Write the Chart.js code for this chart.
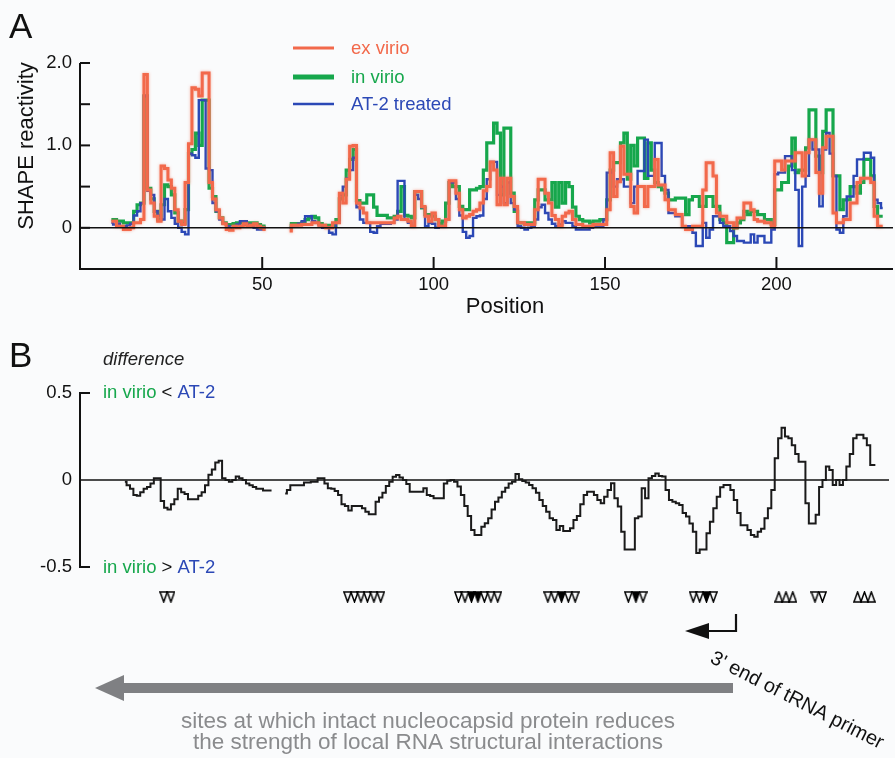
<!DOCTYPE html>
<html><head><meta charset="utf-8">
<script src="https://cdn.jsdelivr.net/npm/chart.js@4.4.1/dist/chart.umd.min.js"></script>
<style>
html,body{margin:0;padding:0;background:#fafbfc;}
#wrap{position:relative;width:895px;height:758px;overflow:hidden;background:#fafbfc;}
canvas{position:absolute;left:0;}
#cA{top:0;} #cB{top:330px;}
</style></head><body>
<div id="wrap"><canvas id="cA" width="895" height="330"></canvas><canvas id="cB" width="895" height="428"></canvas></div>
<script>
// ---------------- DATA ----------------
const positionStartA = 6;   // first nucleotide position in panel A
const exVirio = [
 0.08,0.08,0.02,0.02,-0.02,-0.02,0.0,0.06,0.06,0.1,1.86,0.46,0.3,0.14,0.08,0.75,0.72,0.58,0.48,0.22,0.08,0.04,0.55,1.02,1.7,1.68,1.6,1.88,1.88,0.55,0.35,0.22,0.12,0.05,-0.02,-0.03,0.02,0.0,0.02,0.05,0.02,0.03,0.05,0.02,0.0,-0.02,
 null,null,null,null,null,null,
 -0.04,0.03,0.03,0.03,0.04,0.04,0.04,0.06,0.06,0.03,0.03,0.0,0.0,0.06,0.06,0.42,0.3,0.59,0.99,1.0,0.3,0.24,0.18,0.06,0.06,0.06,0.06,0.06,0.06,0.06,0.06,0.12,0.14,0.1,0.1,0.08,0.02,0.44,0.44,0.26,0.14,0.08,0.18,0.1,0.02,0.02,0.1,0.57,0.57,0.42,0.22,0.12,0.14,0.16,0.2,0.22,0.3,0.45,
 0.5,0.8,0.7,0.28,0.6,0.28,0.6,0.38,0.26,0.06,0.06,0.04,0.04,0.04,0.22,0.59,0.59,0.42,0.3,0.15,0.1,0.02,0.14,0.18,0.2,0.1,0.04,0.04,0.02,0.02,0.02,0.04,0.04,0.04,0.04,0.22,0.91,0.38,0.56,0.99,0.65,0.65,0.26,0.18,
 0.5,0.5,0.26,0.5,0.5,0.83,0.52,0.52,0.34,0.22,0.22,0.16,0.16,0.02,-0.02,-0.02,0.02,0.02,0.02,0.46,0.79,0.79,0.63,0.18,0.14,0.14,0.06,0.06,0.0,0.12,0.12,0.3,0.3,0.22,0.1,0.08,0.08,0.06,0.06,0.02,
 0.81,0.81,0.7,0.81,0.81,0.81,0.91,0.91,0.63,0.91,1.07,1.07,0.67,0.42,0.97,1.11,1.11,0.18,0.06,0.06,0.1,0.1,0.3,0.3,0.55,0.6,0.6,0.6,0.55,0.14,0.02,0.02
];
const inVirio = [
 0.1,0.1,0.08,0.08,0.06,0.06,0.06,0.2,0.28,0.3,1.6,0.48,0.35,0.2,0.1,0.28,0.52,0.5,0.4,0.18,0.08,0.05,0.22,0.9,0.95,1.15,1.0,1.55,1.55,0.48,0.38,0.2,0.12,0.06,0.04,0.04,0.05,0.06,0.06,0.04,0.06,0.06,0.06,0.04,0.02,0.02,
 null,null,null,null,null,null,
 0.03,0.05,0.05,0.05,0.06,0.1,0.12,0.14,0.12,0.05,0.03,0.03,0.03,0.03,0.1,0.35,0.4,0.7,0.83,0.95,0.33,0.3,0.3,0.4,0.4,0.25,0.15,0.15,0.15,0.12,0.12,0.14,0.2,0.5,0.15,0.14,0.12,0.44,0.44,0.24,0.16,0.16,0.14,0.1,0.05,0.08,0.3,0.55,0.5,0.5,0.26,0.22,0.22,0.46,0.46,0.48,0.5,0.7,
 1.03,1.03,1.27,1.15,0.4,1.21,1.21,0.42,0.2,0.06,0.06,0.06,0.06,0.06,0.34,0.46,0.46,0.34,0.34,0.55,0.25,0.55,0.3,0.55,0.5,0.25,0.14,0.1,0.08,0.08,0.06,0.08,0.08,0.1,0.1,0.34,0.7,0.79,0.79,1.03,1.15,0.59,1.0,0.75,1.09,1.09,0.6,1.03,0.7,0.55,
 0.5,0.46,0.42,0.34,0.34,0.36,0.36,0.36,0.16,0.34,0.38,0.38,0.26,0.26,0.38,0.38,0.26,0.26,0.1,0.06,-0.18,-0.18,0.0,0.06,0.1,0.2,0.16,0.2,0.2,0.16,0.16,0.1,0.1,0.04,
 0.46,0.46,0.55,0.55,0.75,1.09,0.67,0.7,0.7,0.97,1.43,1.43,0.87,0.67,1.17,1.43,1.43,0.63,0.63,0.22,0.34,0.34,0.5,0.5,0.42,0.55,0.83,0.83,0.63,0.26,0.14,0.14
];
const at2Treated = [
 0.06,0.04,0.05,0.02,0.02,0.03,0.05,0.15,0.2,0.3,1.6,0.45,0.4,0.2,0.15,0.1,0.35,0.2,0.12,0.05,0.0,-0.05,-0.08,0.9,0.88,0.85,1.55,1.55,0.72,0.7,0.3,0.2,0.1,0.05,0.02,0.0,0.02,0.04,0.08,0.08,0.04,0.02,0.0,-0.02,-0.02,0.0,
 null,null,null,null,null,null,
 0.0,0.03,0.03,0.05,0.08,0.14,0.14,0.08,0.06,0.03,0.0,0.0,-0.06,-0.08,0.06,0.4,0.5,0.6,0.7,0.85,0.25,0.1,0.06,0.06,-0.05,-0.06,0.02,0.05,0.05,0.05,0.06,0.1,0.57,0.57,0.1,0.06,0.02,0.4,0.35,0.25,0.02,0.06,0.05,0.0,0.02,0.02,0.1,0.55,0.55,0.35,0.15,-0.05,-0.12,-0.1,0.12,0.14,0.15,0.35,
 0.59,0.8,0.8,0.4,0.5,0.3,0.55,0.3,0.22,0.02,0.0,-0.02,0.0,0.02,0.1,0.25,0.28,0.18,0.1,0.05,0.02,0.04,0.08,0.06,0.06,0.02,-0.02,-0.02,-0.02,-0.02,0.0,0.02,0.02,0.02,0.1,0.67,0.67,0.5,0.59,0.59,0.5,0.5,0.3,0.5,0.69,0.69,1.07,0.63,0.63,1.03,
 1.03,0.63,0.46,0.18,0.18,0.14,0.14,0.02,0.02,0.02,-0.06,-0.22,-0.22,0.06,-0.12,-0.02,0.14,0.14,0.06,0.02,0.02,-0.04,-0.1,-0.16,-0.16,-0.18,-0.18,-0.08,-0.18,-0.1,-0.1,-0.18,-0.18,-0.02,
 0.65,0.67,0.67,0.87,0.87,0.7,0.46,-0.22,0.5,0.63,1.07,0.95,0.95,0.26,0.95,1.15,0.9,0.63,-0.02,-0.06,0.14,0.38,0.38,0.63,0.83,0.83,0.91,0.91,0.85,0.34,0.3,0.24
];
const positionStartB = 10;  // first position of the difference trace
const difference = [
 -0.01,-0.03,-0.05,-0.086,-0.09,-0.07,-0.05,-0.04,-0.02,0.01,0.01,-0.12,-0.16,-0.17,-0.14,-0.11,-0.05,-0.07,-0.08,-0.11,-0.11,-0.11,-0.09,-0.07,-0.03,0.03,0.06,0.10,0.11,0.01,0.0,-0.01,0.0,0.02,0.01,0.0,-0.02,-0.03,-0.04,-0.05,-0.05,-0.06,-0.06,-0.06,
 null,null,null,
 -0.077,-0.057,-0.03,-0.03,-0.03,-0.03,-0.015,-0.015,-0.01,-0.01,0.01,0.01,-0.02,-0.048,-0.05,-0.063,-0.086,-0.14,-0.15,-0.176,-0.15,-0.15,-0.15,-0.163,-0.182,-0.197,-0.197,-0.125,-0.10,-0.073,-0.034,-0.01,0.019,0.029,0.015,0.0,-0.023,-0.067,-0.067,-0.067,-0.067,-0.048,-0.086,-0.092,-0.105,-0.105,-0.105,-0.02,-0.004,0.0,-0.01,-0.038,-0.086,-0.15,-0.207,-0.287,-0.316,-0.316,-0.268,-0.249,-0.22,-0.169,-0.125,-0.10,-0.067,-0.044,-0.02,-0.01,0.034,0.004,-0.006,-0.015,-0.029,-0.048,-0.073,-0.115,-0.15,-0.182,-0.22,-0.23,-0.287,-0.264,-0.293,-0.293,-0.278,-0.23,-0.207,-0.14,-0.086,-0.067,-0.067,-0.086,
 -0.115,-0.134,-0.096,-0.057,-0.019,-0.105,-0.153,-0.297,-0.40,-0.40,-0.40,-0.22,-0.21,-0.048,-0.105,0.01,0.023,0.038,0.023,0.02,-0.057,-0.115,-0.125,-0.134,-0.144,-0.19,-0.21,-0.25,-0.297,-0.42,-0.40,-0.40,-0.306,-0.24,-0.163,-0.096,-0.042,-0.029,-0.029,-0.057,-0.115,-0.19,-0.26,-0.26,-0.287,-0.316,-0.326,-0.297,-0.28,-0.22,-0.163,-0.057,
 0.125,0.24,0.30,0.25,0.24,0.20,0.15,0.105,0.105,-0.134,-0.25,-0.25,-0.20,-0.04,0.0,0.077,0.057,-0.029,0.0,-0.029,0.0,0.077,0.15,0.24,0.26,0.26,0.24,0.20,0.086,0.086
];
// sites marked by triangles under panel B (positions)
const sitesDownOpen   = [21.4,23.5, 75.3,77.3,79.2,81.1,83.0,85.0, 107.8,109.7,115.4,117.3,119.3, 134.0,136.0,140.0,142.0, 157.6,161.9, 176.6,178.5,182.5, 212.3,214.5];
const sitesDownFilled = [111.6,113.5, 138.0, 159.8, 180.5];
const sitesUpOpen     = [201.7,203.8,205.8, 224.8,226.8,228.8];
const xTickValues = [50,100,150,200];
const xTickLabels = ['50','100','150','200'];
const yTickValuesA = [0,0.5,1,1.5,2];
const yTickLabelsA = ['0','','1.0','','2.0'];
const yTickValuesB = [-0.5,0,0.5];
const yTickLabelsB = ['-0.5','0','0.5'];
const seriesLabels = ['ex virio','in virio','AT-2 treated'];

// ---------------- STYLE ----------------
const FONT = '"Liberation Sans", Arial, Helvetica, sans-serif';
const ORANGE = '#f2694b', GREEN = '#16a74c', BLUE = '#2b48b6';
const X_MIN = -3.15, X_MAX = 234;
const TRI_ROW = -0.672;

function pts(start, arr){ return arr.map((v,i)=>({x:start+i, y:v})); }

function triImage(dir, filled){
  const c = document.createElement('canvas'); c.width = 9; c.height = 12;
  const g = c.getContext('2d');
  g.beginPath();
  if (dir === 'down'){ g.moveTo(0.9,1); g.lineTo(8.1,1); g.lineTo(4.5,11); }
  else { g.moveTo(0.9,11); g.lineTo(8.1,11); g.lineTo(4.5,1); }
  g.closePath();
  g.fillStyle = filled ? '#000' : '#fafbfc'; g.fill();
  g.lineWidth = 1.5; g.lineJoin = 'miter'; g.strokeStyle = '#000'; g.stroke();
  return c;
}

function line(ctx,x1,y1,x2,y2){ ctx.beginPath(); ctx.moveTo(x1,y1); ctx.lineTo(x2,y2); ctx.stroke(); }

const commonX = {
  type:'linear', min:X_MIN, max:X_MAX,
  grid:{display:false, drawTicks:false}, border:{display:false},
  afterBuildTicks: s => { s.ticks = xTickValues.map(v=>({value:v})); },
  ticks:{font:{family:FONT,size:18.5}, color:'#111', padding:5, maxRotation:0, autoSkip:false,
         callback:(v,i)=>xTickLabels[i]}
};

// ---------------- PANEL A ----------------
const panelAPlugin = {
  id:'panelA',
  beforeDatasetDraw(chart, args){
    if (args.index === 0){ chart.ctx.save(); chart.ctx.shadowColor='rgba(242,105,75,0.55)'; chart.ctx.shadowBlur=3; }
  },
  afterDatasetDraw(chart, args){ if (args.index === 0) chart.ctx.restore(); },
  afterDatasetsDraw(chart){
    const {ctx, chartArea:ca, scales:{x,y}} = chart;
    ctx.save();
    ctx.strokeStyle = '#111';
    ctx.lineWidth = 1.6;
    line(ctx, ca.left, y.getPixelForValue(0), ca.right, y.getPixelForValue(0));
    ctx.lineWidth = 2;
    ctx.beginPath(); ctx.moveTo(ca.left, y.getPixelForValue(2)); ctx.lineTo(ca.left, ca.bottom); ctx.lineTo(ca.right, ca.bottom); ctx.stroke();
    yTickValuesA.forEach(v => line(ctx, ca.left, y.getPixelForValue(v), ca.left+10, y.getPixelForValue(v)));
    xTickValues.forEach(v => line(ctx, x.getPixelForValue(v), ca.bottom, x.getPixelForValue(v), ca.bottom-12));
    // texts
    ctx.fillStyle = '#111';
    ctx.font = '35px ' + FONT; ctx.textBaseline='alphabetic'; ctx.textAlign='left';
    ctx.fillText('A', 9, 38);
    ctx.font = '22px ' + FONT; ctx.textAlign='center'; ctx.textBaseline='middle';
    ctx.fillText('Position', 505, 307);
    ctx.save(); ctx.translate(33, 146); ctx.rotate(-Math.PI/2); ctx.textBaseline='alphabetic';
    ctx.fillText('SHAPE reactivity', 0, 0); ctx.restore();
    // legend
    const leg = [[ORANGE,3,48],[GREEN,5,77],[BLUE,2.6,104]];
    ctx.textAlign='left'; ctx.textBaseline='middle'; ctx.font = '18.5px ' + FONT;
    leg.forEach((l,i)=>{
      ctx.strokeStyle=l[0]; ctx.lineWidth=l[1]; line(ctx, 293, l[2], 334, l[2]);
      ctx.fillStyle=l[0]; ctx.fillText(seriesLabels[i], 351, l[2]+1);
    });
    ctx.restore();
  }
};

new Chart(document.getElementById('cA'), {
  type:'line',
  data:{ datasets:[
    {label:seriesLabels[0], data:pts(positionStartA, exVirio), borderColor:ORANGE, borderWidth:3, stepped:'middle', pointRadius:0, order:0, spanGaps:false},
    {label:seriesLabels[2], data:pts(positionStartA, at2Treated), borderColor:BLUE, borderWidth:2.4, stepped:'middle', pointRadius:0, order:1, spanGaps:false},
    {label:seriesLabels[1], data:pts(positionStartA, inVirio), borderColor:GREEN, borderWidth:3.2, stepped:'middle', pointRadius:0, order:2, spanGaps:false}
  ]},
  options:{
    responsive:false, animation:false, devicePixelRatio:1,
    layout:{padding:{left:20, right:2, top:63, bottom:21}},
    plugins:{legend:{display:false}, tooltip:{enabled:false}},
    scales:{
      x:Object.assign({}, commonX, {afterFit: s => { s.height = 40; }}),
      y:{min:-0.5, max:2, grid:{display:false, drawTicks:false}, border:{display:false},
         afterBuildTicks: s => { s.ticks = yTickValuesA.map(v=>({value:v})); },
         afterFit: s => { s.width = 60; },
         ticks:{font:{family:FONT,size:18.5}, color:'#111', padding:8, callback:(v,i)=>yTickLabelsA[i]}}
    }
  },
  plugins:[panelAPlugin]
});

// ---------------- PANEL B ----------------
const OFF = 330;
const Y_MIN_B = -0.72;   // room below the axis for the site markers
const panelBPlugin = {
  id:'panelB',
  beforeDatasetsDraw(chart){
    const {ctx, chartArea:ca, scales:{y}} = chart;
    ctx.save(); ctx.strokeStyle='#111'; ctx.lineWidth=1.6;
    line(ctx, ca.left, y.getPixelForValue(0), ca.right, y.getPixelForValue(0));
    ctx.lineWidth=2;
    ctx.beginPath();
    ctx.moveTo(ca.left+10, y.getPixelForValue(0.5)); ctx.lineTo(ca.left, y.getPixelForValue(0.5));
    ctx.lineTo(ca.left, y.getPixelForValue(-0.5)); ctx.lineTo(ca.left+10, y.getPixelForValue(-0.5));
    ctx.stroke(); ctx.restore();
  },
  afterDatasetsDraw(chart){
    const {ctx} = chart;
    ctx.save();
    ctx.fillStyle='#111'; ctx.textAlign='left'; ctx.textBaseline='alphabetic';
    ctx.font='35px ' + FONT; ctx.fillText('B', 9, 367-OFF);
    ctx.font='italic 18.5px ' + FONT; ctx.textBaseline='middle'; ctx.fillStyle='#222';
    ctx.fillText('difference', 103, 360-OFF);
    function cmp(yc, sym){
      ctx.font='18.5px ' + FONT; let xx = 103;
      ctx.fillStyle=GREEN; ctx.fillText('in virio', xx, yc); xx += ctx.measureText('in virio ').width;
      ctx.fillStyle='#111'; ctx.fillText(sym, xx, yc); xx += ctx.measureText(sym+' ').width;
      ctx.fillStyle=BLUE; ctx.fillText('AT-2', xx, yc);
    }
    cmp(393-OFF, '<'); cmp(568-OFF, '>');
    // primer arrow
    ctx.strokeStyle='#111'; ctx.lineWidth=2.2;
    ctx.beginPath(); ctx.moveTo(736, 614-OFF); ctx.lineTo(736, 631-OFF); ctx.lineTo(706, 631-OFF); ctx.stroke();
    ctx.fillStyle='#111'; ctx.beginPath(); ctx.moveTo(685, 631-OFF); ctx.lineTo(709, 623-OFF); ctx.lineTo(709, 639-OFF); ctx.closePath(); ctx.fill();
    ctx.save(); ctx.translate(709, 662-OFF); ctx.rotate(27*Math.PI/180);
    ctx.font='20px ' + FONT; ctx.textAlign='left'; ctx.textBaseline='alphabetic'; ctx.fillStyle='#111';
    ctx.fillText("3' end of tRNA primer", 0, 0); ctx.restore();
    // gray arrow
    ctx.fillStyle='#7f8083';
    ctx.fillRect(120, 683-OFF, 613, 10);
    ctx.beginPath(); ctx.moveTo(95, 688-OFF); ctx.lineTo(124, 675-OFF); ctx.lineTo(124, 701-OFF); ctx.closePath(); ctx.fill();
    ctx.fillStyle='#8a8b8d'; ctx.font='22.5px ' + FONT; ctx.textAlign='center'; ctx.textBaseline='alphabetic';
    ctx.fillText('sites at which intact nucleocapsid protein reduces', 428, 728-OFF);
    ctx.fillText('the strength of local RNA structural interactions', 428, 749-OFF);
    ctx.restore();
  }
};

const triDownOpen = triImage('down', false), triDownFilled = triImage('down', true), triUpOpen = triImage('up', false);
const markerRow = arr => arr.map(p => ({x:p, y:TRI_ROW}));

new Chart(document.getElementById('cB'), {
  type:'line',
  data:{ datasets:[
    {label:'difference', data:pts(positionStartB, difference), borderColor:'#1a1a1a', borderWidth:2, stepped:'middle', pointRadius:0, spanGaps:false, order:0},
    {label:'down', data:markerRow(sitesDownOpen), showLine:false, pointStyle:triDownOpen, pointRadius:5, order:1},
    {label:'downFilled', data:markerRow(sitesDownFilled), showLine:false, pointStyle:triDownFilled, pointRadius:5, order:1},
    {label:'up', data:markerRow(sitesUpOpen), showLine:false, pointStyle:triUpOpen, pointRadius:5, order:1}
  ]},
  options:{
    responsive:false, animation:false, devicePixelRatio:1,
    layout:{padding:{left:20, right:2, top:63, bottom:428-63-174*(0.5-Y_MIN_B)}},
    plugins:{legend:{display:false}, tooltip:{enabled:false}},
    scales:{
      x:Object.assign({}, commonX, {display:false}),
      y:{min:Y_MIN_B, max:0.5, grid:{display:false, drawTicks:false}, border:{display:false},
         afterBuildTicks: s => { s.ticks = yTickValuesB.map(v=>({value:v})); },
         afterFit: s => { s.width = 60; },
         ticks:{font:{family:FONT,size:18.5}, color:'#111', padding:8, callback:(v,i)=>yTickLabelsB[i]}}
    }
  },
  plugins:[panelBPlugin]
});
</script>
</body></html>
